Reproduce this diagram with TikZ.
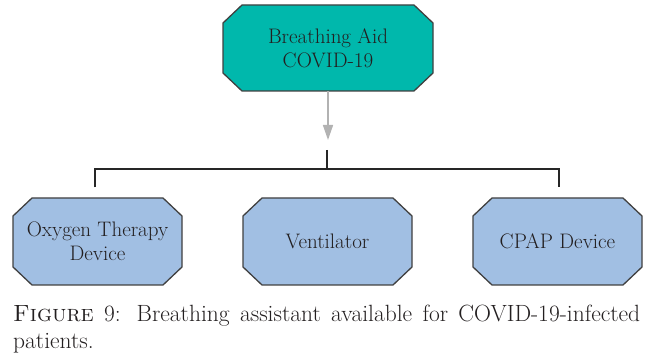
\documentclass[tikz,border=0pt]{standalone}
\usetikzlibrary{arrows.meta}
\definecolor{tealfill}{RGB}{0,184,172}
\definecolor{bluefill}{RGB}{161,191,227}
\definecolor{edgegray}{RGB}{64,64,64}
\definecolor{arrgray}{RGB}{178,178,178}
\definecolor{txt}{RGB}{35,31,32}
\newcommand{\octo}[7]{%
  \draw[octline,fill=#6] ({#2-#4+19},{#3+#5}) -- ({#2+#4-19},{#3+#5}) -- ({#2+#4},{#3+#5-18}) -- ({#2+#4},{#3-#5+18}) -- ({#2+#4-19},{#3-#5}) -- ({#2-#4+19},{#3-#5}) -- ({#2-#4},{#3-#5+18}) -- ({#2-#4},{#3+#5-18}) -- cycle;
  \node[lbl,minimum width={2*#4pt},minimum height={2*#5pt}] (#1) at (#2,#3) {#7};}
\begin{document}
\begin{tikzpicture}[x=1pt,y=1pt,
  octline/.style={draw=edgegray,line width=1.3pt,line join=miter},
  lbl/.style={draw=none,inner sep=0pt,align=center,text=txt,font=\fontsize{21}{24}\selectfont},
  conn/.style={draw=black!85,line width=1.5pt},
  garrow/.style={draw=arrgray,line width=1.5pt,-{Triangle[length=15pt,width=10pt,fill=arrgray]}},
  captext/.style={anchor=base west,inner sep=0pt,text=txt,font=\fontsize{23.5}{27}\selectfont}]
\path[use as bounding box] (0,0) rectangle (649,-355);
\octo{aid}{328}{-48}{105}{43}{tealfill}{Breathing Aid\\COVID-19}
\octo{oxy}{97.5}{-241.5}{84.5}{43.5}{bluefill}{Oxygen Therapy\\Device}
\octo{vent}{327.5}{-241.5}{84.5}{43.5}{bluefill}{Ventilator}
\octo{cpap}{557.5}{-241.5}{84.5}{43.5}{bluefill}{CPAP Device}
\coordinate (tip) at (328,-140);
\coordinate (jtop) at (327,-150);
\coordinate (jbar) at (327,-169);
\coordinate (lend) at (95,-187.5);
\coordinate (rend) at (559,-187.5);
\draw[garrow] (aid.south) -- (tip);
\draw[conn] (jtop) -- (jbar);
\draw[conn] (lend) |- (jbar) -| (rend);
\node[captext] (cap1) at (13,-322) {\makebox[627pt][s]{\textsc{Figure} 9: Breathing assistant available for COVID-19-infected}};
\node[captext] (cap2) at (13,-349) {patients.};
\end{tikzpicture}
\end{document}
